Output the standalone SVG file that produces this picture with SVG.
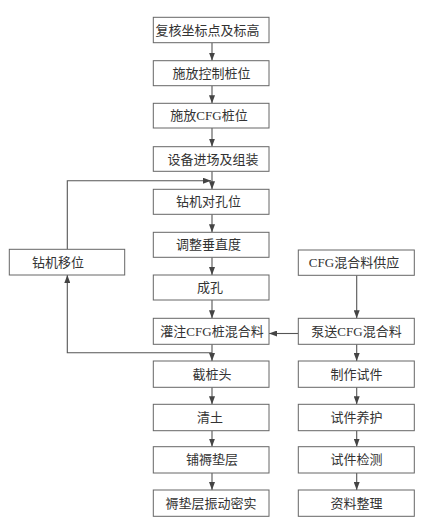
<svg xmlns="http://www.w3.org/2000/svg" width="442" height="529" viewBox="0 0 442 529">
<style>
.box{fill:#fff;stroke:#666;stroke-width:1}
.t{font-family:"Liberation Serif","Noto Sans CJK SC",serif;font-size:13px;fill:#333;text-anchor:middle;dominant-baseline:central}
.c{fill:none;stroke:#555;stroke-width:1.1}
</style>
<defs>
<marker id="ah" viewBox="0 0 8 6" refX="8" refY="3" markerWidth="8" markerHeight="6" markerUnits="userSpaceOnUse" orient="auto">
<path d="M0,0 L8,3 L0,6 Z" fill="#444"/>
</marker>
</defs>
<rect width="442" height="529" fill="#fff"/>
<g id="connectors">
<line class="c" x1="212" y1="42.7" x2="212" y2="60.7" marker-end="url(#ah)"/>
<line class="c" x1="212" y1="85.7" x2="212" y2="103.3" marker-end="url(#ah)"/>
<line class="c" x1="212" y1="128" x2="212" y2="146.7" marker-end="url(#ah)"/>
<line class="c" x1="212" y1="171.3" x2="212" y2="189.3" marker-end="url(#ah)"/>
<line class="c" x1="212" y1="214.3" x2="212" y2="232.3" marker-end="url(#ah)"/>
<line class="c" x1="212" y1="257.3" x2="212" y2="275" marker-end="url(#ah)"/>
<line class="c" x1="212" y1="300" x2="212" y2="318.3" marker-end="url(#ah)"/>
<line class="c" x1="212" y1="344.3" x2="212" y2="361" marker-end="url(#ah)"/>
<line class="c" x1="212" y1="387.3" x2="212" y2="404.3" marker-end="url(#ah)"/>
<line class="c" x1="212" y1="430.7" x2="212" y2="446.7" marker-end="url(#ah)"/>
<line class="c" x1="212" y1="473" x2="212" y2="490" marker-end="url(#ah)"/>
<polyline class="c" points="67.3,249.3 67.3,180.7 211,180.7" marker-end="url(#ah)"/>
<polyline class="c" points="212,352.7 67.3,352.7 67.3,275" marker-end="url(#ah)"/>
<line class="c" x1="298.3" y1="333.5" x2="269" y2="333.5" marker-end="url(#ah)"/>
<line class="c" x1="356.7" y1="275.3" x2="356.7" y2="318.3" marker-end="url(#ah)"/>
<line class="c" x1="356.7" y1="344.3" x2="356.7" y2="361" marker-end="url(#ah)"/>
<line class="c" x1="356.7" y1="387.3" x2="356.7" y2="404.3" marker-end="url(#ah)"/>
<line class="c" x1="356.7" y1="430.7" x2="356.7" y2="446.7" marker-end="url(#ah)"/>
<line class="c" x1="356.7" y1="473" x2="356.7" y2="490" marker-end="url(#ah)"/>
</g>
<g id="n1"><rect class="box" x="153.3" y="17.3" width="115.7" height="25.4"/><text class="t" x="207.5" y="30">复核坐标点及标高</text></g>
<g id="n2"><rect class="box" x="153.3" y="60.7" width="115.7" height="25"/><text class="t" x="211.5" y="73.2">施放控制桩位</text></g>
<g id="n3"><rect class="box" x="153.3" y="103.3" width="115.7" height="24.7"/><text class="t" x="209" y="115.7">施放CFG桩位</text></g>
<g id="n4"><rect class="box" x="153.3" y="146.7" width="115.7" height="24.6"/><text class="t" x="213" y="159">设备进场及组装</text></g>
<g id="n5"><rect class="box" x="153.3" y="189.3" width="115.7" height="25"/><text class="t" x="208.5" y="201.8">钻机对孔位</text></g>
<g id="n6"><rect class="box" x="153.3" y="232.3" width="115.7" height="25"/><text class="t" x="208.5" y="244.8">调整垂直度</text></g>
<g id="n7"><rect class="box" x="153.3" y="275" width="115.7" height="25"/><text class="t" x="210" y="287.5">成孔</text></g>
<g id="n8"><rect class="box" x="153.3" y="318.3" width="115.7" height="26"/><text class="t" x="212" y="331.3">灌注CFG桩混合料</text></g>
<g id="n9"><rect class="box" x="153.3" y="361" width="115.7" height="26.3"/><text class="t" x="212" y="374.2">截桩头</text></g>
<g id="n10"><rect class="box" x="153.3" y="404.3" width="115.7" height="26.4"/><text class="t" x="210" y="417.5">清土</text></g>
<g id="n11"><rect class="box" x="153.3" y="446.7" width="115.7" height="26.3"/><text class="t" x="212" y="459.8">铺褥垫层</text></g>
<g id="n12"><rect class="box" x="153.3" y="490" width="115.7" height="26.3"/><text class="t" x="211" y="503.2">褥垫层振动密实</text></g>
<g id="n13"><rect class="box" x="9.3" y="249.3" width="115.4" height="25.7"/><text class="t" x="58" y="262.2">钻机移位</text></g>
<g id="n14"><rect class="box" x="298.3" y="250" width="116" height="25.3"/><text class="t" x="354" y="262.6">CFG混合料供应</text></g>
<g id="n15"><rect class="box" x="298.3" y="318.3" width="116" height="26"/><text class="t" x="356.5" y="331.3">泵送CFG混合料</text></g>
<g id="n16"><rect class="box" x="298.3" y="361" width="116" height="26.3"/><text class="t" x="356.5" y="374.2">制作试件</text></g>
<g id="n17"><rect class="box" x="298.3" y="404.3" width="116" height="26.4"/><text class="t" x="356.5" y="417.5">试件养护</text></g>
<g id="n18"><rect class="box" x="298.3" y="446.7" width="116" height="26.3"/><text class="t" x="356.5" y="459.8">试件检测</text></g>
<g id="n19"><rect class="box" x="298.3" y="490" width="116" height="26.3"/><text class="t" x="356.5" y="503.2">资料整理</text></g>
</svg>
